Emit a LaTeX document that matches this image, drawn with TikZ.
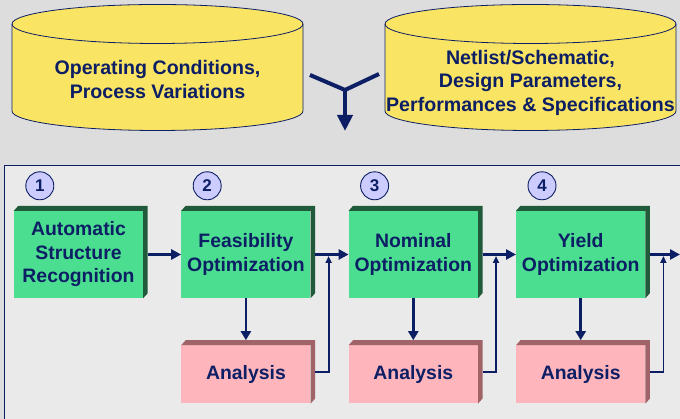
\documentclass[tikz,border=0pt]{standalone}
\usepackage{fontspec}
\setmainfont{Liberation Sans}
\usetikzlibrary{arrows.meta, positioning, calc}
\definecolor{navy}{RGB}{12,30,100}
\definecolor{bggray}{RGB}{221,221,221}
\definecolor{panelgray}{RGB}{234,234,234}
\definecolor{dbyellow}{RGB}{250,228,100}
\definecolor{optgreen}{RGB}{76,222,144}
\definecolor{optdark}{RGB}{32,90,58}
\definecolor{anapink}{RGB}{255,181,188}
\definecolor{anadark}{RGB}{160,100,104}
\definecolor{numblue}{RGB}{204,204,255}

\begin{document}
\begin{tikzpicture}[x=1pt,y=1pt,
  cyl/.style={draw=navy,fill=dbyellow,line width=0.8pt},
  dbt/.style={align=center,text=navy,font=\fontsize{19.6}{23.5}\selectfont\bfseries},
  g/.style={rectangle,fill=optgreen,minimum width=129pt,minimum height=87pt,inner sep=0pt,align=center,text=navy,font=\fontsize{19.4}{23.5}\selectfont\bfseries},
  p/.style={rectangle,fill=anapink,minimum width=129pt,minimum height=58pt,inner sep=0pt,align=center,text=navy,font=\fontsize{19.4}{23.5}\selectfont\bfseries},
  num/.style={circle,draw=navy,fill=numblue,line width=0.9pt,minimum size=28pt,inner sep=0pt,text=navy,font=\fontsize{17}{17}\selectfont\bfseries},
  arr/.style={-{Triangle[length=10pt,width=10pt]},line width=3pt,navy},
  fb/.style={-{Triangle[length=7pt,width=6pt]},line width=1.8pt,navy,shorten >=1.5pt}]
  \fill[bggray] (0,0) rectangle (680,419);
  \useasboundingbox (0,0) rectangle (680,419);
  \clip (0,0) rectangle (680,419);
  % databases
  \draw[cyl] (12,395) -- (12,308) arc[start angle=180,end angle=360,x radius=145.5,y radius=19.5] -- (303,395) arc[start angle=0,end angle=180,x radius=145.5,y radius=19.5] -- cycle;
  \draw[navy,line width=0.8pt] (12,395) arc[start angle=180,end angle=360,x radius=145.5,y radius=19.5];
  \draw[cyl] (385,395) -- (385,308) arc[start angle=180,end angle=360,x radius=145.5,y radius=19.5] -- (676,395) arc[start angle=0,end angle=180,x radius=145.5,y radius=19.5] -- cycle;
  \draw[navy,line width=0.8pt] (385,395) arc[start angle=180,end angle=360,x radius=145.5,y radius=19.5];
  \node[dbt] (cond) at (157.5,339.5) {Operating Conditions,\\Process Variations};
  \node[dbt] (spec) at (530.5,336.5) {Netlist/Schematic,\\Design Parameters,\\Performances \& Specifications};
  \coordinate (yl) at (310,344);
  \coordinate (yr) at (379,345);
  \coordinate (yj) at (345,329);
  \coordinate (yt) at (345,288);
  \draw[navy,line width=4pt] (yl) -- (yj) -- (yr);
  \draw[navy,line width=4pt,-{Triangle[length=16pt,width=15pt]}] (yj) -- (yt);
  % flow panel
  \draw[navy,fill=panelgray,line width=0.8pt] (4,254) rectangle (700,-20);
  \node[g] (b1) at (78.5,164.5) {Automatic\\Structure\\Recognition};
  \node[g,right=38pt of b1] (b2) {Feasibility\\Optimization};
  \node[g,right=38pt of b2] (b3) {Nominal\\Optimization};
  \node[g,right=38pt of b3] (b4) {Yield\\Optimization};
  \node[p,below=47pt of b2] (a2) {Analysis};
  \node[p,below=47pt of b3] (a3) {Analysis};
  \node[p,below=47pt of b4] (a4) {Analysis};
  \foreach \n/\c in {b1/optdark,b2/optdark,b3/optdark,b4/optdark,a2/anadark,a3/anadark,a4/anadark}
    \fill[\c] (\n.north west) -- ++(4.5,5) -- ([shift={(4.5,5)}]\n.north east) -- ([shift={(4.5,5)}]\n.south east) -- (\n.south east) -- (\n.north east) -- cycle;
  \foreach \i in {1,...,4}
    \node[num] (n\i) at ([xshift=26pt,yshift=25pt]b\i.north west) {\i};
  \coordinate (out) at (680,164.5);
  \foreach \x/\y in {b1/b2,b2/b3,b3/b4}{\draw[arr]([xshift=4.5pt]\x.east)--(\y.west);}
  \draw[arr] ([xshift=4.5pt]b4.east) -- (out);
  \foreach \x in {2,3,4}{
    \draw[arr,line width=2.5pt,-{Triangle[length=9pt,width=10pt]}] (b\x.south) -- ([yshift=5pt]a\x.north);
    \coordinate (j\x) at ([xshift=18pt]b\x.east);
    \draw[fb] ([xshift=4.5pt,yshift=2pt]a\x.east) -| (j\x);
  }
\end{tikzpicture}
\end{document}
